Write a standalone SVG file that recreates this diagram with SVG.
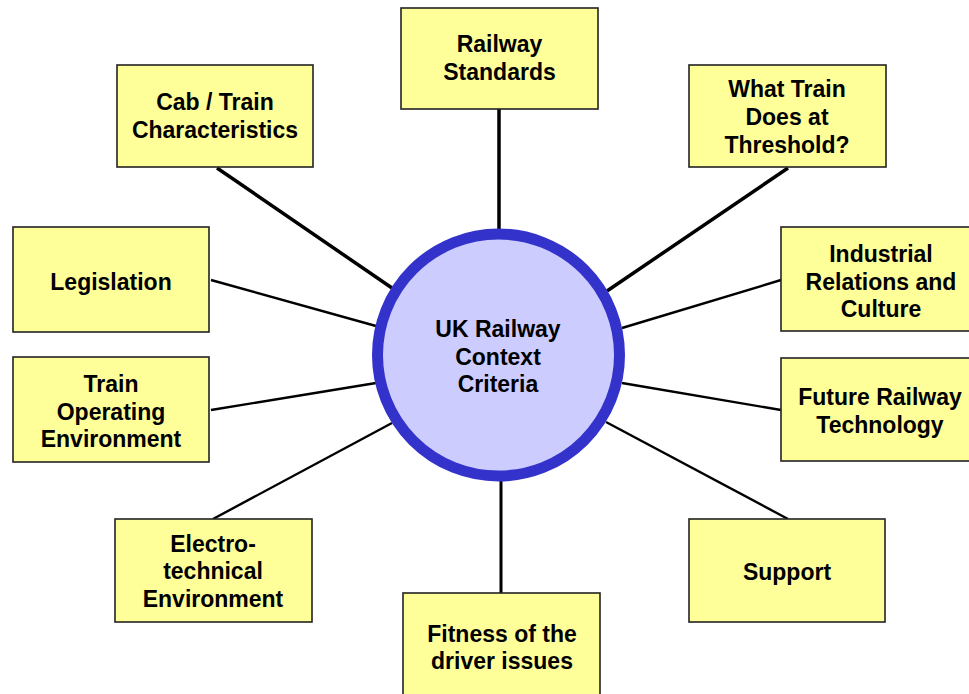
<svg xmlns="http://www.w3.org/2000/svg" width="969" height="694" viewBox="0 0 969 694">
<style>
.box{fill:#ffff99;stroke:#222;stroke-width:1.6}
.t{font-family:"Liberation Sans",Arial,sans-serif;font-weight:bold;font-size:23px;fill:#000;text-anchor:middle}
.thick{stroke:#000;stroke-width:3.5;fill:none}
.thin{stroke:#000;stroke-width:2.4;fill:none}
</style>
<rect width="969" height="694" fill="#fff"/>
<g id="connectors">
<line class="thick" x1="499" y1="109" x2="499" y2="232"/>
<line class="thick" x1="217" y1="168" x2="392" y2="288"/>
<line class="thick" x1="788" y1="168" x2="607" y2="291"/>
<line class="thin" x1="211" y1="280" x2="376" y2="326"/>
<line class="thin" x1="781" y1="280" x2="622" y2="328"/>
<line class="thin" x1="211" y1="410" x2="376" y2="383"/>
<line class="thin" x1="781" y1="410" x2="622" y2="383"/>
<line class="thin" x1="213" y1="519" x2="392" y2="423"/>
<line class="thin" x1="788" y1="519" x2="606" y2="422"/>
<line class="thick" x1="501" y1="478" x2="501" y2="593" style="stroke-width:3"/>
</g>
<g id="center">
<circle cx="498.5" cy="355" r="121" fill="#ccccff" stroke="#3333cc" stroke-width="11"/>
<text class="t" x="498" y="337">UK Railway</text>
<text class="t" x="498" y="364.5">Context</text>
<text class="t" x="498" y="392">Criteria</text>
</g>
<g id="railway-standards">
<rect class="box" x="401" y="8" width="197" height="101"/>
<text class="t" x="499.5" y="52">Railway</text>
<text class="t" x="499.5" y="80">Standards</text>
</g>
<g id="cab-train">
<rect class="box" x="117" y="65" width="196" height="102"/>
<text class="t" x="215" y="110">Cab / Train</text>
<text class="t" x="215" y="138">Characteristics</text>
</g>
<g id="what-train">
<rect class="box" x="689" y="65" width="197" height="102"/>
<text class="t" x="787" y="97">What Train</text>
<text class="t" x="787" y="125">Does at</text>
<text class="t" x="787" y="153">Threshold?</text>
</g>
<g id="legislation">
<rect class="box" x="13" y="227" width="196" height="105"/>
<text class="t" x="111" y="290">Legislation</text>
</g>
<g id="industrial">
<rect class="box" x="781" y="227" width="200" height="104"/>
<text class="t" x="881" y="262">Industrial</text>
<text class="t" x="881" y="290">Relations and</text>
<text class="t" x="881" y="317">Culture</text>
</g>
<g id="train-operating">
<rect class="box" x="13" y="357" width="196" height="105"/>
<text class="t" x="111" y="392">Train</text>
<text class="t" x="111" y="420">Operating</text>
<text class="t" x="111" y="447">Environment</text>
</g>
<g id="future-railway">
<rect class="box" x="781" y="358" width="200" height="103"/>
<text class="t" x="880" y="405">Future Railway</text>
<text class="t" x="880" y="433">Technology</text>
</g>
<g id="electro">
<rect class="box" x="115" y="519" width="197" height="103"/>
<text class="t" x="213" y="552">Electro-</text>
<text class="t" x="213" y="579">technical</text>
<text class="t" x="213" y="607">Environment</text>
</g>
<g id="support">
<rect class="box" x="689" y="519" width="196" height="103"/>
<text class="t" x="787" y="580">Support</text>
</g>
<g id="fitness">
<rect class="box" x="403" y="593" width="197" height="104"/>
<text class="t" x="502" y="642">Fitness of the</text>
<text class="t" x="502" y="669">driver issues</text>
</g>
</svg>
